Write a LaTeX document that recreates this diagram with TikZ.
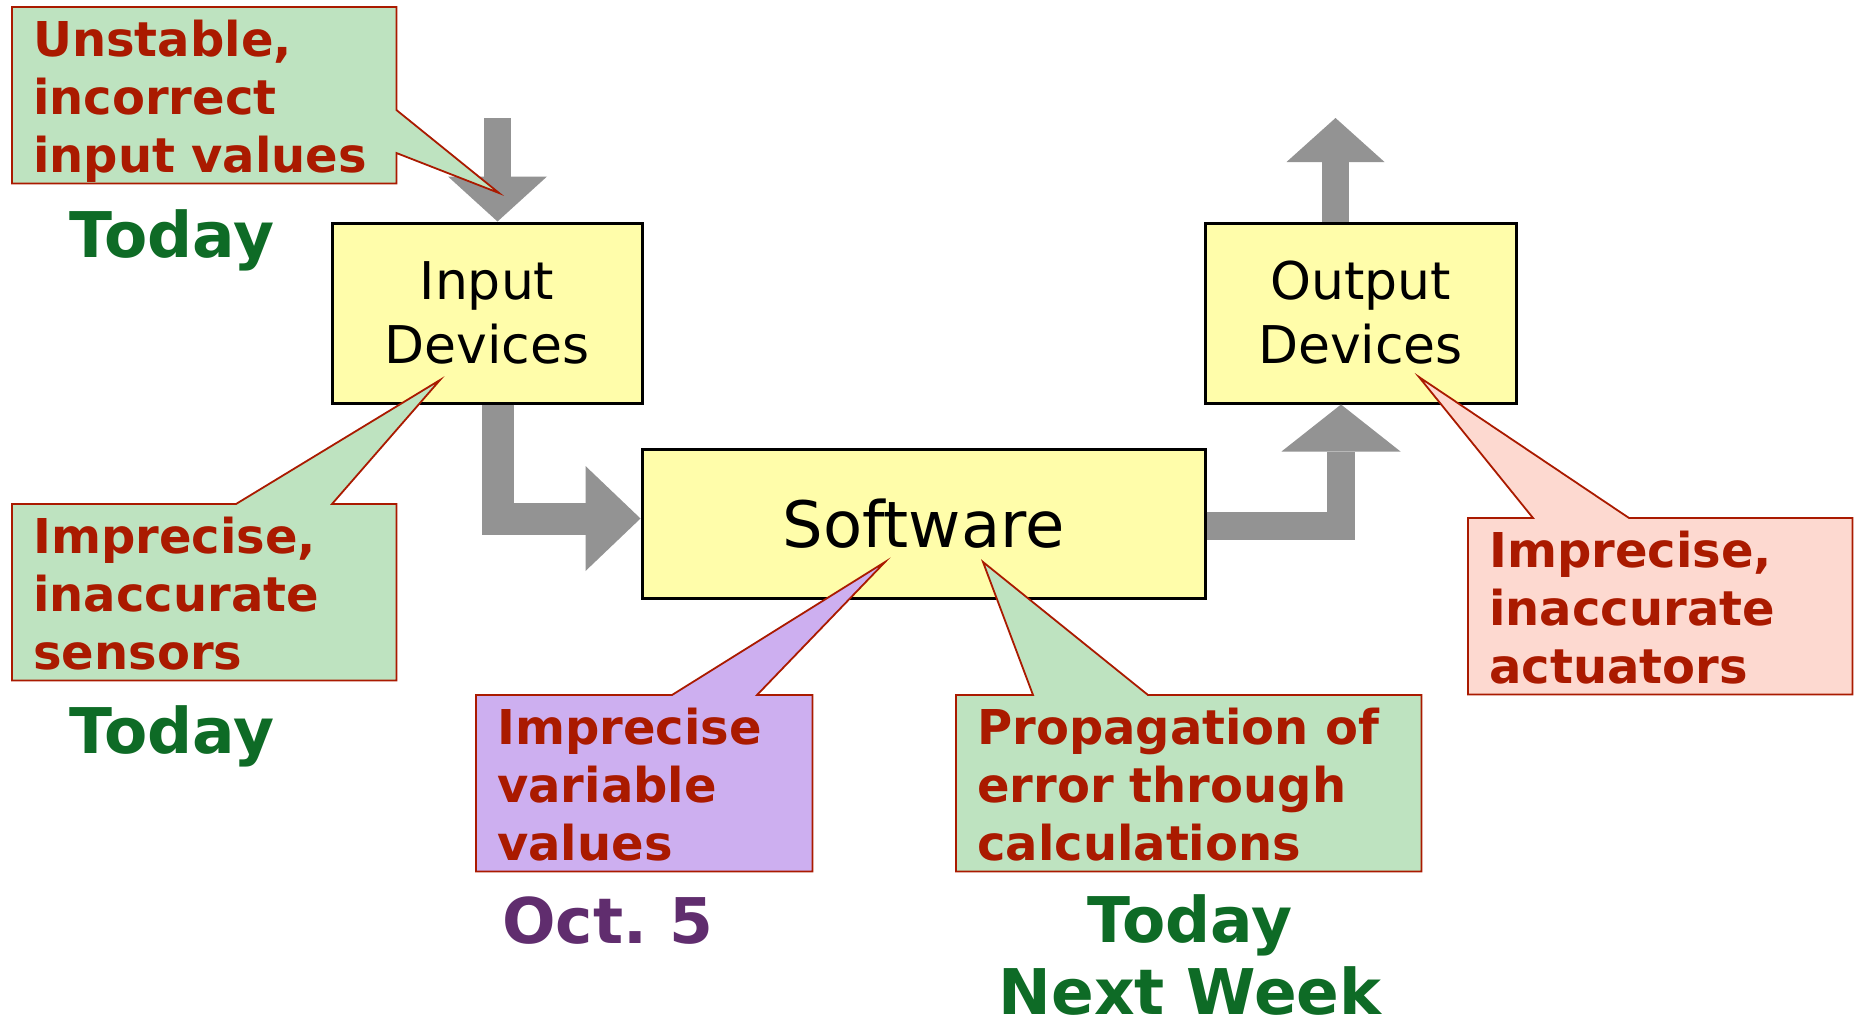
\documentclass[tikz,border=0pt]{standalone}
\usepackage{fontspec}
\setmainfont{DejaVu Sans}
\usetikzlibrary{arrows.meta,backgrounds,calc}

\definecolor{boxyellow}{RGB}{255,253,170}
\definecolor{pipegray}{RGB}{147,147,147}
\definecolor{notered}{RGB}{170,26,0}
\definecolor{notegreen}{RGB}{190,227,192}
\definecolor{notepurple}{RGB}{205,175,240}
\definecolor{notepink}{RGB}{253,217,208}
\definecolor{daygreen}{RGB}{14,107,38}
\definecolor{daypurple}{RGB}{96,45,110}

\tikzset{
  device/.style={draw, line width=3pt, fill=boxyellow, align=center, inner sep=0pt,
    minimum width=310pt, minimum height=180pt, font={\fontsize{52}{64}\selectfont}},
  pipe/.style={draw=pipegray, line width=#1},
  note/.style={anchor=north west, text width=#1, minimum height=176pt,
    inner xsep=21pt, inner ysep=0pt, text height=43pt, text depth=121pt,
    align=left, text=notered, font={\fontsize{48}{58}\selectfont\bfseries}},
  notebox/.style={draw=notered, line width=1.8pt, fill=#1},
  when/.style={anchor=base, inner sep=0pt, text=daygreen,
    font={\fontsize{63}{72}\selectfont\bfseries}}
}

\begin{document}
\begin{tikzpicture}[x=1pt, y=-1pt]
  \begin{scope}[on background layer]
    \fill[white] (0,0) rectangle (1854,1026);
    \node[device] (inp) at (487,313) {Input\\Devices};
    \node[device, minimum width=311pt] (outp) at (1360.5,313) {Output\\Devices};
    \node[device, minimum width=563pt, minimum height=149pt,
      font={\fontsize{64}{77}\selectfont}] (soft) at (923.5,523.5) {Software};

    % gray flow arrows
    \coordinate (feed) at (497.5,118);
    \coordinate (drive) at (1335.5,118);
    \draw[pipe=27pt, -{Triangle[length=45pt, width=99pt, line width=0pt]}]
      (feed) -- (feed |- inp.north);
    \draw[pipe=32pt, -{Triangle[length=55pt, width=105pt, line width=0pt]}]
      (inp.south -| feed) |- ([yshift=5pt]soft.west);
    \draw[pipe=28pt, -{Triangle[length=47pt, width=119pt, line width=0pt]}]
      ([yshift=-2.5pt]soft.east) -| ([xshift=-19.5pt]outp.south);
    \draw[pipe=27pt, -{Triangle[length=44pt, width=98pt, line width=0pt]}]
      (outp.north -| drive) -- (drive);
  \end{scope}

  % callouts
  \node[note=342pt] (unstable) at (12,7) {Unstable,\\incorrect\\input values};
  \node[note=342pt] (sensors) at (12,504) {Imprecise,\\inaccurate\\sensors};
  \node[note=294pt] (variables) at (476,695) {Imprecise\\variable\\values};
  \node[note=423pt] (propagation) at (956,695) {Propagation of\\error through\\calculations};
  \node[note=342pt] (actuators) at (1468,518) {Imprecise,\\inaccurate\\actuators};

  \coordinate (unstabletip) at (499,193);
  \coordinate (sensorstip) at (440,380);
  \coordinate (variablestip) at (885,562);
  \coordinate (propagationtip) at (983,562);
  \coordinate (actuatorstip) at (1419,377);

  \begin{scope}[on background layer]
    \draw[notebox=notegreen] (unstable.north west) -- (unstable.north east)
      -- ($(unstable.north east)+(0,103)$) -- (unstabletip)
      -- ($(unstable.north east)+(0,146)$) -- (unstable.south east)
      -- (unstable.south west) -- cycle;
    \draw[notebox=notegreen] (sensors.north west)
      -- ($(sensors.north west)+(224,0)$) -- (sensorstip)
      -- ($(sensors.north west)+(320,0)$) -- (sensors.north east)
      -- (sensors.south east) -- (sensors.south west) -- cycle;
    \draw[notebox=notepurple] (variables.north west)
      -- ($(variables.north west)+(196,0)$) -- (variablestip)
      -- ($(variables.north west)+(281,0)$) -- (variables.north east)
      -- (variables.south east) -- (variables.south west) -- cycle;
    \draw[notebox=notegreen] (propagation.north west)
      -- ($(propagation.north west)+(77,0)$) -- (propagationtip)
      -- ($(propagation.north west)+(192,0)$) -- (propagation.north east)
      -- (propagation.south east) -- (propagation.south west) -- cycle;
    \draw[notebox=notepink] (actuators.north west)
      -- ($(actuators.north west)+(65,0)$) -- (actuatorstip)
      -- ($(actuators.north west)+(161,0)$) -- (actuators.north east)
      -- (actuators.south east) -- (actuators.south west) -- cycle;
  \end{scope}

  % when
  \node[when] (inwhen) at (172,257) {Today};
  \node[when] (senswhen) at (172,753) {Today};
  \node[when, text=daypurple] (varwhen) at (607.5,943) {Oct.\ 5};
  \node[when, align=center] (calcwhen) at (1190,1014) {Today\\Next Week};
\end{tikzpicture}
\end{document}
